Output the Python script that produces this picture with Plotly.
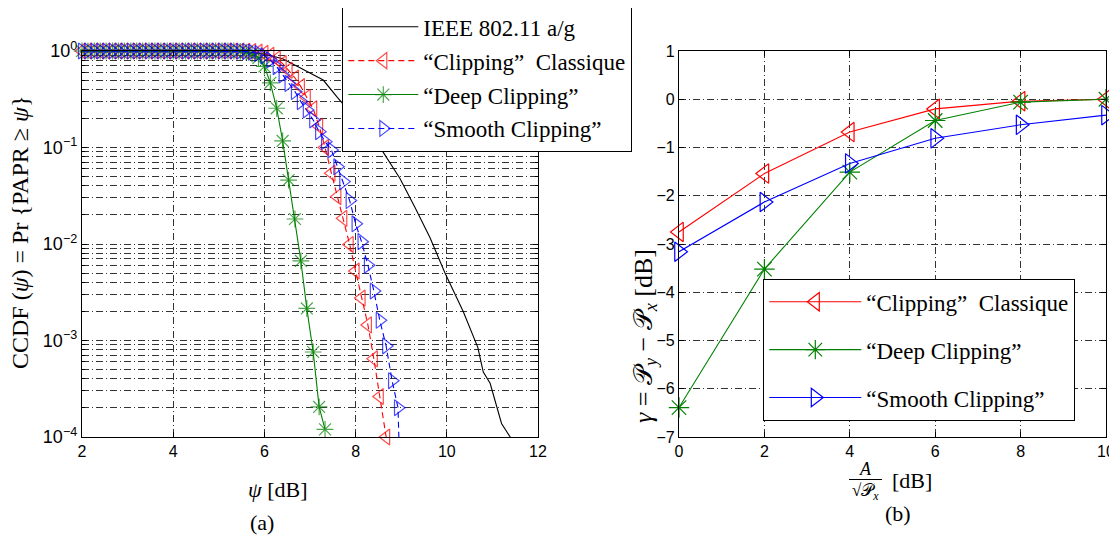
import plotly.graph_objects as go

# ---------------- data : panel (a) ----------------
ieee_psi = [2.0, 3.0, 4.0, 4.5, 5.0, 5.5, 6.0, 6.4, 6.78, 7.29, 7.6, 8.0, 8.6, 8.97, 9.3,
            9.63, 9.96, 10.36, 10.68, 10.8, 10.95, 11.12, 11.2, 11.39, 11.6]
ieee_ccdf = [1.0, 1.0, 1.0, 1.0, 0.999, 0.99, 0.93, 0.83, 0.67, 0.5, 0.33, 0.2, 0.09, 0.048, 0.024,
             0.0117, 0.005, 0.002, 0.00085, 0.00047, 0.00036, 0.00019, 0.000138, 0.0001, 0.00006]

psi_grid = [2.00, 2.13, 2.27, 2.40, 2.53, 2.67, 2.80, 2.93, 3.07, 3.20, 3.33, 3.47, 3.60, 3.73,
            3.87, 4.00, 4.13, 4.27, 4.40, 4.53, 4.67, 4.80, 4.93, 5.07, 5.20, 5.33, 5.47, 5.60,
            5.73, 5.87, 6.00, 6.13, 6.27, 6.40, 6.53, 6.67, 6.80, 6.93, 7.07, 7.20, 7.33, 7.47,
            7.60, 7.73, 7.87, 8.00, 8.13, 8.27, 8.40, 8.53, 8.67, 8.80, 8.93, 9.07]

classique_ccdf = [1.0] * 27 + [0.995, 0.989, 0.973, 0.944, 0.902, 0.832, 0.741, 0.631, 0.525,
                               0.427, 0.331, 0.251, 0.166, 0.1, 0.0541, 0.0309, 0.01845, 0.00989,
                               0.00525, 0.00275, 0.00145, 0.000646, 0.000263, 0.0001]
deep_ccdf = [1.0] * 26 + [0.991, 0.973, 0.933, 0.851, 0.692, 0.468, 0.255, 0.117, 0.046, 0.01816,
                          0.00667, 0.00215, 0.00076, 0.000205, 0.00012]
smooth_ccdf = [1.0] * 26 + [0.995, 0.989, 0.973, 0.944, 0.891, 0.807, 0.687, 0.564, 0.462, 0.38,
                            0.299, 0.245, 0.193, 0.146, 0.115, 0.0942, 0.0631, 0.0443, 0.0282,
                            0.0162, 0.01057, 0.00603, 0.00326, 0.00162, 0.000877, 0.000383,
                            0.000201, 0.000001]

ytick_vals = [1, 0.1, 0.01, 0.001, 0.0001]
ytick_text = ["10<sup>0</sup>", "10<sup>\u22121</sup>", "10<sup>\u22122</sup>",
              "10<sup>\u22123</sup>", "10<sup>\u22124</sup>"]

# ---------------- data : panel (b) ----------------
ratio_db = [0, 2, 4, 6, 8, 10]
gamma_classique = [-2.75, -1.54, -0.68, -0.2, -0.04, 0.0]
gamma_deep = [-6.39, -3.52, -1.51, -0.44, -0.06, 0.0]
gamma_smooth = [-3.16, -2.13, -1.33, -0.81, -0.53, -0.33]

names = ["IEEE 802.11 a/g", "\u201cClipping\u201d  Classique", "\u201cDeep Clipping\u201d",
         "\u201cSmooth Clipping\u201d"]

# the page body adds an 8 px offset; the figure is sized so it ends at the window edge
OFF = 8
W, H = 1117 - OFF, 543 - OFF
def fx(x):
    return (x - OFF) / W
def fy(y):
    return 1 - (y - OFF) / H

RED, GREEN, BLUE = "#ff0000", "#008000", "#0000ff"
SERIF = "Liberation Serif"
SANS = "Liberation Sans"
GRID = dict(showgrid=True, gridcolor="#333333", gridwidth=0.7, griddash="7px,3px,1px,3px")

fig = go.Figure()

# panel (a)
fig.add_trace(go.Scatter(x=ieee_psi, y=ieee_ccdf, mode="lines", name=names[0],
                         line=dict(color="black", width=1.1), legendgroup="a0",
                         xaxis="x", yaxis="y", legend="legend"))

def sizes(vals, s):
    return [s if v >= 0.99e-4 else 0 for v in vals]

fig.add_trace(go.Scatter(x=psi_grid[:len(classique_ccdf)], y=classique_ccdf, mode="lines+markers",
                         name=names[1], legendgroup="a1", cliponaxis=False,
                         line=dict(color=RED, width=1.1, dash="6px,4px"),
                         marker=dict(symbol="triangle-left-open", size=sizes(classique_ccdf, 14),
                                     color=RED, line=dict(width=1.2, color=RED)),
                         xaxis="x", yaxis="y", legend="legend"))
fig.add_trace(go.Scatter(x=psi_grid[:len(deep_ccdf)], y=deep_ccdf, mode="lines+markers",
                         name=names[2], legendgroup="a2", cliponaxis=False,
                         line=dict(color=GREEN, width=1.1),
                         marker=dict(symbol="asterisk-open", size=sizes(deep_ccdf, 14),
                                     color=GREEN, line=dict(width=1.2, color=GREEN)),
                         xaxis="x", yaxis="y", legend="legend"))
fig.add_trace(go.Scatter(x=psi_grid[:len(smooth_ccdf)], y=smooth_ccdf, mode="lines+markers",
                         name=names[3], legendgroup="a3", cliponaxis=False,
                         line=dict(color=BLUE, width=1.1, dash="6px,4px"),
                         marker=dict(symbol="triangle-right-open", size=sizes(smooth_ccdf, 14),
                                     color=BLUE, line=dict(width=1.2, color=BLUE)),
                         xaxis="x", yaxis="y", legend="legend"))

# panel (b)
for vals, nm, col, sym, grp in [(gamma_classique, names[1], RED, "triangle-left-open", "b1"),
                                (gamma_deep, names[2], GREEN, "asterisk-open", "b2"),
                                (gamma_smooth, names[3], BLUE, "triangle-right-open", "b3")]:
    fig.add_trace(go.Scatter(x=ratio_db, y=vals, mode="lines+markers", name=nm, legendgroup=grp,
                             cliponaxis=False, line=dict(color=col, width=1.1),
                             marker=dict(symbol=sym, size=17, color=col, line=dict(width=1.2, color=col)),
                             xaxis="x2", yaxis="y2", legend="legend2"))

axis_common = dict(showline=True, linecolor="black", linewidth=1.3, mirror="ticks", ticks="inside",
                   ticklen=5, tickcolor="black", tickfont=dict(family=SANS, size=16, color="black"),
                   zeroline=False, automargin=False, **GRID)

minor_vals = [m * 10 ** e for e in range(-4, 0) for m in range(2, 10)]

yaxis_a = dict(axis_common)
yaxis_a["tickfont"] = dict(family=SANS, size=18, color="black")

fig.update_layout(
    template="none",
    width=W, height=H, margin=dict(l=0, r=0, t=0, b=0, autoexpand=False),
    paper_bgcolor="white", plot_bgcolor="white",
    xaxis=dict(domain=[fx(82), fx(538)], range=[2, 12], tick0=2, dtick=2, anchor="y", **axis_common),
    yaxis=dict(domain=[fy(437), fy(51)], type="log", range=[-4, 0], tickmode="array",
               tickvals=ytick_vals, ticktext=ytick_text, anchor="x",
               minor=dict(tickmode="array", tickvals=minor_vals, ticks="inside", ticklen=3,
                          tickcolor="black", showgrid=True, gridcolor="#333333", gridwidth=0.7,
                          griddash="7px,3px,1px,3px"),
               **yaxis_a),
    xaxis2=dict(domain=[fx(679), fx(1106)], range=[0, 10], tick0=0, dtick=2, anchor="y2", **axis_common),
    yaxis2=dict(domain=[fy(437), fy(51)], range=[-7, 1], tick0=-7, dtick=1, anchor="x2", **axis_common),
    legend=dict(x=fx(342), y=fy(4), xanchor="left", yanchor="top", bgcolor="white",
                bordercolor="black", borderwidth=1.3, font=dict(family=SERIF, size=23, color="black"),
                tracegroupgap=1, itemwidth=70),
    legend2=dict(x=fx(763), y=fy(279), xanchor="left", yanchor="top", bgcolor="white",
                 bordercolor="black", borderwidth=1.3, font=dict(family=SERIF, size=23, color="black"),
                 tracegroupgap=15, itemwidth=92),
)

def label(x, y, text, size=22, angle=0):
    fig.add_annotation(x=fx(x), y=fy(y), xref="paper", yref="paper", xanchor="center",
                       yanchor="middle", textangle=angle, showarrow=False, text=text,
                       font=dict(family=SERIF, size=size, color="black"))

label(20, 233, "CCDF (<i>\u03c8</i>) = Pr {PAPR \u2265 <i>\u03c8</i>}", size=24, angle=-90)
label(278, 489, "<i>\u03c8</i> [dB]")
label(262, 522, "(a)")
label(645, 336, "<i>\u03b3</i> = \U0001D4AB<sub><i>y</i></sub> \u2212 \U0001D4AB<sub><i>x</i></sub> [dB]",
      size=26, angle=-90)
label(866, 469, "<i>A</i>", size=18)
fig.add_shape(type="line", xref="paper", yref="paper", x0=fx(849), x1=fx(882), y0=fy(479.5), y1=fy(479.5),
              line=dict(color="black", width=1))
label(865, 492, "\u221a\U0001D4AB<sub><i>x</i></sub>", size=17)
label(912, 480, "[dB]")
label(898, 513, "(b)")

fig.write_html("out.html")
